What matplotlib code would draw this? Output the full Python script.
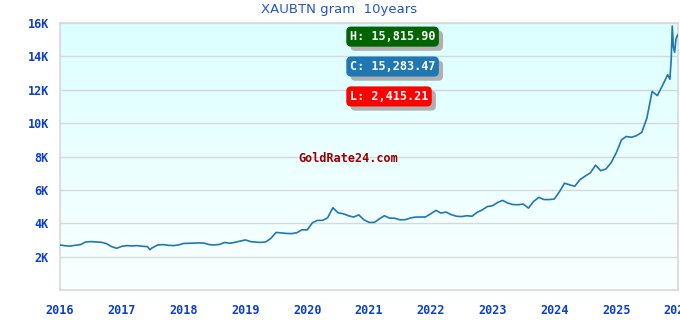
import numpy as np
import pandas as pd
import matplotlib; matplotlib.use("Agg")
import matplotlib.pyplot as plt
import matplotlib.dates as mdates
import matplotlib.patheffects as pe

# monthly closes (first of month), 2016-01 .. 2025-11, then finer tail
monthly = [
    2700, 2650, 2630, 2680, 2720, 2880, 2900, 2880, 2860, 2780, 2600, 2500,   # 2016
    2620, 2660, 2640, 2660, 2620, 2600, 2540, 2700, 2720, 2680, 2660, 2700,   # 2017
    2790, 2800, 2810, 2820, 2810, 2720, 2700, 2730, 2850, 2800, 2860, 2930,   # 2018
    3000, 2900, 2870, 2850, 2880, 3100, 3450, 3420, 3390, 3380, 3430, 3610,   # 2019
    3600, 4030, 4170, 4170, 4330, 4930, 4630, 4570, 4450, 4370, 4500, 4210,   # 2020
    4050, 4050, 4250, 4450, 4310, 4300, 4210, 4210, 4310, 4370, 4370, 4380,   # 2021
    4570, 4770, 4610, 4670, 4520, 4420, 4400, 4450, 4420, 4650, 4800, 5000,   # 2022
    5050, 5250, 5370, 5210, 5120, 5110, 5150, 4910, 5310, 5550, 5420, 5420,   # 2023
    5450, 5900, 6400, 6300, 6220, 6620, 6820, 7020, 7480, 7150, 7250, 7620,   # 2024
    8220, 9000, 9200, 9150, 9250, 9450, 10300, 11900, 11650, 12250, 12900,    # 2025
]
tail_dates = ["2025-11-14", "2025-11-22", "2025-11-28", "2025-12-05",
              "2025-12-12", "2025-12-20", "2025-12-30"]
tail_vals = [12630, 13830, 15815.90, 14540, 14240, 15040, 15283.47]

dates = list(pd.date_range("2016-01-01", periods=len(monthly), freq="MS")) + \
    list(pd.to_datetime(tail_dates))
prices = monthly + tail_vals

# 2017 low spike
low_date, low_val = pd.Timestamp("2017-06-15"), 2415.21
dates.append(low_date); prices.append(low_val)
order = np.argsort(dates)
dates = [dates[i] for i in order]
prices = [prices[i] for i in order]

labels = [("H: 15,815.90", "#006400"), ("C: 15,283.47", "#1f77b4"),
          ("L: 2,415.21", "#ff0000")]
yticks = [2000, 4000, 6000, 8000, 10000, 12000, 14000, 16000]
ytick_labels = ["2K", "4K", "6K", "8K", "10K", "12K", "14K", "16K"]
years = list(range(2016, 2027))

blue = "#0a3fcf"
mono = "DejaVu Sans Mono"

fig = plt.figure(figsize=(6.8, 3.2), dpi=100)
ax = fig.add_axes([60/680, 30/320, 618/680, 267/320])

x0, x1 = mdates.date2num(pd.Timestamp("2016-01-01")), mdates.date2num(pd.Timestamp("2026-01-01"))
grad = np.linspace(0, 1, 256).reshape(-1, 1)
top = np.array([220, 255, 255]) / 255
bot = np.array([250, 255, 255]) / 255
img = top * (1 - grad[..., None]) + bot * grad[..., None]
img = np.repeat(img, 2, axis=1)
ax.imshow(img, extent=[x0, x1, 0, 16000], aspect="auto", origin="upper", zorder=0)

ax.plot(dates, prices, color="#1f77b4", lw=1.2, zorder=3)

ax.set_xlim(x0, x1)
ax.set_ylim(0, 16000)
ax.set_yticks(yticks)
ax.set_yticklabels(ytick_labels)
ax.set_xticks([mdates.date2num(pd.Timestamp(f"{y}-01-01")) for y in years])
ax.set_xticklabels([str(y) for y in years])
ax.tick_params(length=0, colors=blue, labelsize=8.5)
ax.tick_params(axis="y", pad=8)
ax.tick_params(axis="x", pad=10)
for t in ax.get_xticklabels() + ax.get_yticklabels():
    t.set_fontfamily(mono); t.set_fontweight("bold")
ax.grid(axis="y", color="#d8d8d8", lw=1)
ax.set_axisbelow(False)
for s in ax.spines.values():
    s.set_color("#d8d8d8"); s.set_linewidth(1.2)

fig.text(339/680, 1 - 10/320, "XAUBTN gram  10years", ha="center", va="center",
         color="#2255cc", fontsize=9.5, family="DejaVu Sans")

for i, (txt, col) in enumerate(labels):
    t = ax.text(0.469, 0.949 - i * 0.112, txt, transform=ax.transAxes, ha="left",
                va="center", color="white", fontsize=8.5, family=mono,
                fontweight="bold", zorder=5,
                bbox=dict(boxstyle="round,pad=0.3,rounding_size=0.4", fc=col, ec="none"))
    t.get_bbox_patch().set_path_effects(
        [pe.withSimplePatchShadow(offset=(3, -3), shadow_rgbFace="#b0b0b0", alpha=1)])

ax.text((348 - 60) / 618, 1 - (158 - 23) / 267, "GoldRate24.com",
        transform=ax.transAxes, ha="center", va="center", color="#990000",
        fontsize=8.5, family=mono, fontweight="bold", zorder=4)

fig.savefig("out.png")
